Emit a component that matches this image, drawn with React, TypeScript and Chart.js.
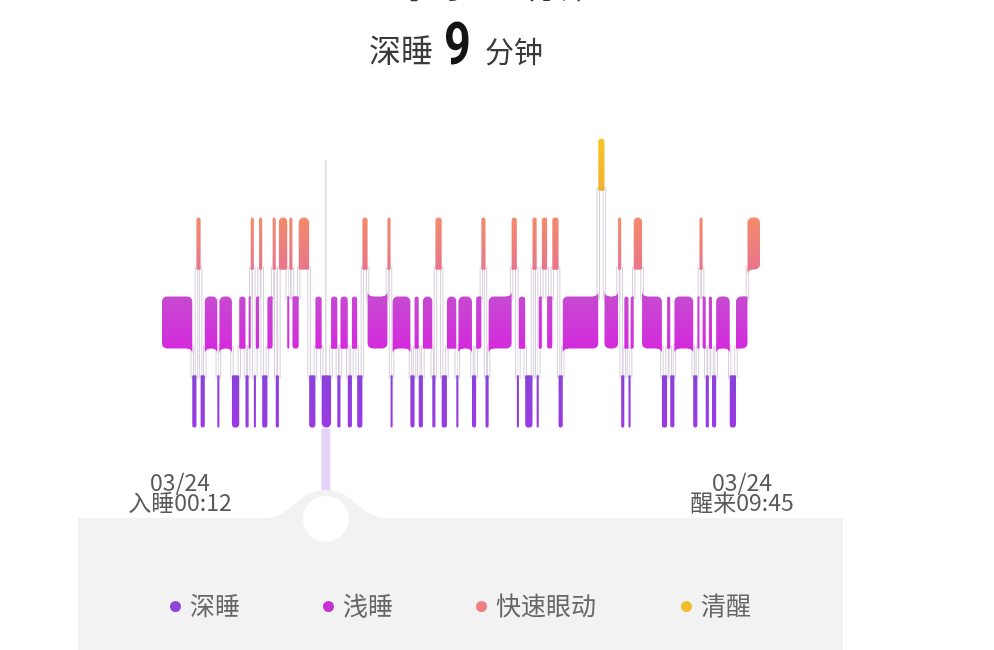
import React, { useEffect, useRef } from 'react';
import { Chart, registerables } from 'chart.js';

Chart.register(...registerables);

// ---- data ----
const stageLabels = ['清醒', '快速眼动', '浅睡', '深睡'];
const stageKeys = ['A', 'R', 'L', 'D'];
const legendLabels = ['深睡', '浅睡', '快速眼动', '清醒'];
const legendKeys = ['D', 'L', 'R', 'A'];

// stage of each segment, in order
const seqStage = [
  'L', 'D', 'R', 'D', 'L', 'D', 'L', 'D', 'L', 'D',
  'L', 'R', 'D', 'L', 'R', 'D', 'L', 'R', 'D', 'R',
  'L', 'R', 'L', 'R', 'D', 'L', 'D', 'L', 'D', 'L',
  'D', 'L', 'D', 'R', 'L', 'R', 'D', 'L', 'D', 'L',
  'D', 'L', 'D', 'R', 'D', 'L', 'D', 'L', 'D', 'L',
  'R', 'D', 'L', 'R', 'D', 'L', 'D', 'R', 'D', 'L',
  'R', 'L', 'R', 'D', 'L', 'A', 'L', 'R', 'D', 'L',
  'D', 'L', 'R', 'L', 'D', 'L', 'D', 'L', 'D', 'L',
  'R', 'L', 'D', 'L', 'D', 'L', 'D', 'L', 'R',
];
// start of each segment, minutes after falling asleep (00:12)
const seqStart = [
  0, 29, 33, 37, 41, 53, 55, 67, 74, 80,
  83, 85, 88, 90, 93, 96, 101, 106, 109, 112,
  120, 122, 125, 131, 141, 147, 153, 162, 168, 171,
  178, 182, 187, 192, 197, 216, 219, 221, 238, 242,
  246, 250, 259, 262, 268, 273, 282, 284, 297, 301,
  306, 310, 313, 335, 340, 342, 348, 355, 359, 361,
  364, 369, 374, 380, 384, 418, 424, 437, 440, 443,
  447, 449, 452, 460, 479, 484, 487, 491, 509, 513,
  515, 518, 521, 524, 527, 531, 544, 550, 561,
];
const sleepEnd = 573; // 09:45
const cursorMinute = 157;

const startLabel = ['03/24', '入睡00:12'];
const endLabel = ['03/24', '醒来09:45'];
const topLine = ['9', '小时', '33', '分钟'];
const titleParts = ['深睡', '9', '分钟'];

const gradStops: Record<string, [string, string]> = {
  A: ['#F7C52A', '#F0B232'],
  R: ['#F38B6B', '#E8758B'],
  L: ['#C64AD0', '#D42ADD'],
  D: ['#8943D8', '#9B39E4'],
};
const legendColors: Record<string, string> = {
  D: '#9043DA',
  L: '#C530D2',
  R: '#F07F7F',
  A: '#F2BE2E',
};

const CJK = '"Noto Sans CJK SC", "Noto Sans", sans-serif';
const BAR_FRAC = 0.66;
const RADIUS = 5;
const FILLET = 5;

function buildSegments() {
  return seqStage.map((s, i) => ({
    stage: s,
    start: seqStart[i],
    end: i + 1 < seqStart.length ? seqStart[i + 1] : sleepEnd,
  }));
}

function halfBand(ys: any) {
  return ((ys.height / stageLabels.length) * BAR_FRAC) / 2;
}

function bandGradient(chart: any, idx: number, stops: [string, string]) {
  const ys = chart.scales && chart.scales.y;
  if (!ys || !ys.height) return stops[0];
  const c = ys.getPixelForValue(idx);
  const h = halfBand(ys);
  const g = chart.ctx.createLinearGradient(0, c - h, 0, c + h);
  g.addColorStop(0, stops[0]);
  g.addColorStop(1, stops[1]);
  return g;
}

const hypnoPlugin = {
  id: 'hypno',
  beforeDatasetsDraw(chart: any) {
    const { ctx, chartArea } = chart;
    const x = chart.scales.x;
    const y = chart.scales.y;
    const h = halfBand(y);
    const segs = buildSegments();
    ctx.save();
    // cursor line
    const cx = x.getPixelForValue(cursorMinute);
    ctx.strokeStyle = '#d0d0d0';
    ctx.lineWidth = 1.2;
    ctx.beginPath();
    ctx.moveTo(cx, chartArea.top + 35);
    ctx.lineTo(cx, y.getPixelForValue(3));
    ctx.stroke();
    // connectors (band edge to band edge)
    const lines: [number, number, number][] = [];
    for (let i = 1; i < segs.length; i++) {
      const px = x.getPixelForValue(segs[i].start);
      const iA = stageKeys.indexOf(segs[i - 1].stage);
      const iB = stageKeys.indexOf(segs[i].stage);
      const down = iB > iA;
      const y1 = y.getPixelForValue(iA) + (down ? h - 3 : -h + 3);
      const y2 = y.getPixelForValue(iB) + (down ? -h + 3 : h - 3);
      lines.push([px, y1, y2]);
    }
    ctx.lineCap = 'butt';
    ctx.strokeStyle = '#d3cad8';
    ctx.lineWidth = 3.4;
    lines.forEach(([px, y1, y2]) => {
      ctx.beginPath();
      ctx.moveTo(px, y1);
      ctx.lineTo(px, y2);
      ctx.stroke();
    });
    ctx.strokeStyle = '#ffffff';
    ctx.lineWidth = 1.6;
    lines.forEach(([px, y1, y2]) => {
      ctx.beginPath();
      ctx.moveTo(px, y1);
      ctx.lineTo(px, y2);
      ctx.stroke();
    });
    ctx.restore();
  },
  afterDatasetsDraw(chart: any) {
    const { ctx } = chart;
    const x = chart.scales.x;
    const y = chart.scales.y;
    const h = halfBand(y);
    const segs = buildSegments();
    ctx.save();
    // square the connected corners; wide bars get a fillet flowing into the connector
    for (let i = 1; i < segs.length; i++) {
      const A = segs[i - 1];
      const B = segs[i];
      const t = x.getPixelForValue(B.start);
      const iA = stageKeys.indexOf(A.stage);
      const iB = stageKeys.indexOf(B.stage);
      const down = iB > iA;
      // bar A (ends at t)
      {
        const w = t - x.getPixelForValue(A.start);
        const rc = Math.min(RADIUS, w / 2);
        const c = y.getPixelForValue(iA);
        ctx.fillStyle = bandGradient(chart, iA, gradStops[A.stage]);
        const fil = w >= 12;
        const rf = FILLET;
        if (down) {
          const b = c + h;
          ctx.fillRect(t - rc, b - rc, rc, rc);
          if (fil) {
            ctx.beginPath();
            ctx.moveTo(t, b - 0.5);
            ctx.lineTo(t, b + rf);
            ctx.arc(t - rf, b + rf, rf, 0, -Math.PI / 2, true);
            ctx.lineTo(t - rf, b - 0.5);
            ctx.closePath();
            ctx.fill();
          }
        } else {
          const tp = c - h;
          ctx.fillRect(t - rc, tp, rc, rc);
          if (fil) {
            ctx.beginPath();
            ctx.moveTo(t, tp + 0.5);
            ctx.lineTo(t, tp - rf);
            ctx.arc(t - rf, tp - rf, rf, 0, Math.PI / 2, false);
            ctx.lineTo(t - rf, tp + 0.5);
            ctx.closePath();
            ctx.fill();
          }
        }
      }
      // bar B (starts at t)
      {
        const w = x.getPixelForValue(B.end) - t;
        const rc = Math.min(RADIUS, w / 2);
        const c = y.getPixelForValue(iB);
        ctx.fillStyle = bandGradient(chart, iB, gradStops[B.stage]);
        const fil = w >= 12;
        const rf = FILLET;
        if (down) {
          const tp = c - h;
          ctx.fillRect(t, tp, rc, rc);
          if (fil) {
            ctx.beginPath();
            ctx.moveTo(t, tp + 0.5);
            ctx.lineTo(t, tp - rf);
            ctx.arc(t + rf, tp - rf, rf, Math.PI, Math.PI / 2, true);
            ctx.lineTo(t + rf, tp + 0.5);
            ctx.closePath();
            ctx.fill();
          }
        } else {
          const b = c + h;
          ctx.fillRect(t, b - rc, rc, rc);
          if (fil) {
            ctx.beginPath();
            ctx.moveTo(t, b - 0.5);
            ctx.lineTo(t, b + rf);
            ctx.arc(t + rf, b + rf, rf, Math.PI, Math.PI * 1.5, false);
            ctx.lineTo(t + rf, b - 0.5);
            ctx.closePath();
            ctx.fill();
          }
        }
      }
    }

    const cx = x.getPixelForValue(cursorMinute);
    const deepBottom = y.getPixelForValue(3) + h;
    const panelTop = 518;
    // lavender indicator
    ctx.fillStyle = '#E4D3F6';
    ctx.fillRect(cx - 4.5, deepBottom + 1, 9, 490 - deepBottom);
    // panel
    ctx.fillStyle = '#F2F2F2';
    ctx.fillRect(78, panelTop, 765, 650 - panelTop);
    // bump
    ctx.beginPath();
    ctx.moveTo(cx - 64, panelTop + 0.5);
    ctx.bezierCurveTo(cx - 32, panelTop, cx - 30, 490, cx, 490);
    ctx.bezierCurveTo(cx + 30, 490, cx + 32, panelTop, cx + 64, panelTop + 0.5);
    ctx.closePath();
    ctx.fill();
    // knob
    ctx.fillStyle = '#ffffff';
    ctx.beginPath();
    ctx.arc(cx, 519, 23, 0, Math.PI * 2);
    ctx.fill();
    ctx.restore();
  },
};

export default function App() {
  const ref = useRef<HTMLCanvasElement | null>(null);

  useEffect(() => {
    document.body.style.margin = '0';
    document.body.style.overflow = 'hidden';
    const canvas = ref.current;
    if (!canvas) return;
    const segs = buildSegments();
    const datasets = stageKeys.map((k, idx) => ({
      label: stageLabels[idx],
      data: segs
        .filter((s) => s.stage === k)
        .map((s) => ({ x: [s.start, s.end], y: stageLabels[idx] })),
      backgroundColor: (c: any) => bandGradient(c.chart, idx, gradStops[k]),
      borderWidth: 0,
      borderRadius: RADIUS,
      borderSkipped: false,
      grouped: false,
      barPercentage: BAR_FRAC,
      categoryPercentage: 1,
    }));
    const chart = new Chart(canvas, {
      type: 'bar',
      data: { labels: stageLabels, datasets: datasets as any },
      options: {
        indexAxis: 'y',
        responsive: false,
        animation: false,
        events: [],
        layout: { padding: { left: 162, right: 234, top: 125, bottom: 209 } },
        scales: {
          x: { type: 'linear', min: 0, max: sleepEnd, display: false },
          y: { type: 'category', labels: stageLabels, display: false, offset: true },
        },
        plugins: { legend: { display: false }, tooltip: { enabled: false } },
      },
      plugins: [hypnoPlugin],
    });
    return () => chart.destroy();
  }, []);

  const abs = (s: React.CSSProperties): React.CSSProperties => ({
    position: 'absolute',
    whiteSpace: 'nowrap',
    margin: 0,
    ...s,
  });
  const boldNum: React.CSSProperties = {
    fontFamily: 'Roboto, sans-serif',
    fontWeight: 700,
    transform: 'scaleX(0.78)',
    transformOrigin: 'left top',
  };

  return (
    <div style={{ position: 'relative', width: 994, height: 650, background: '#fff', overflow: 'hidden' }}>
      <canvas ref={ref} width={994} height={650} style={{ position: 'absolute', left: 0, top: 0, width: 994, height: 650 }} />

      {/* clipped top line */}
      <div style={abs({ ...boldNum, left: 366, top: -48, fontSize: 56, lineHeight: '56px', color: '#222' })}>{topLine[0]}</div>
      <div style={abs({ left: 402, top: -30, fontFamily: CJK, fontSize: 30, lineHeight: '30px', color: '#333' })}>{topLine[1]}</div>
      <div style={abs({ ...boldNum, left: 470, top: -48, fontSize: 56, lineHeight: '56px', color: '#222' })}>{topLine[2]}</div>
      <div style={abs({ left: 528, top: -30, fontFamily: CJK, fontSize: 30, lineHeight: '30px', color: '#333' })}>{topLine[3]}</div>

      {/* title */}
      <div style={abs({ left: 369, top: 32, fontFamily: CJK, fontSize: 32, lineHeight: '32px', color: '#3a3a3a' })}>{titleParts[0]}</div>
      <div style={abs({ ...boldNum, left: 444, top: 14, fontSize: 60, lineHeight: '60px', color: '#141414' })}>{titleParts[1]}</div>
      <div style={abs({ left: 485, top: 36, fontFamily: CJK, fontSize: 29, lineHeight: '29px', color: '#3a3a3a' })}>{titleParts[2]}</div>

      {/* time labels */}
      <div style={abs({ left: 110, top: 471, width: 140, textAlign: 'center', fontFamily: CJK, fontSize: 23, lineHeight: '20px', color: '#595959' })}>
        <div>{startLabel[0]}</div>
        <div>{startLabel[1]}</div>
      </div>
      <div style={abs({ left: 672, top: 471, width: 140, textAlign: 'center', fontFamily: CJK, fontSize: 23, lineHeight: '20px', color: '#595959' })}>
        <div>{endLabel[0]}</div>
        <div>{endLabel[1]}</div>
      </div>

      {/* legend */}
      {legendLabels.map((lab, i) => {
        const dotX = [175, 328, 481, 686][i];
        return (
          <React.Fragment key={lab}>
            <div style={abs({ left: dotX - 5.5, top: 600.5, width: 11, height: 11, borderRadius: '50%', background: legendColors[legendKeys[i]] })} />
            <div style={abs({ left: dotX + 15, top: 592, fontFamily: CJK, fontSize: 25, lineHeight: '25px', color: '#666' })}>{lab}</div>
          </React.Fragment>
        );
      })}
    </div>
  );
}
